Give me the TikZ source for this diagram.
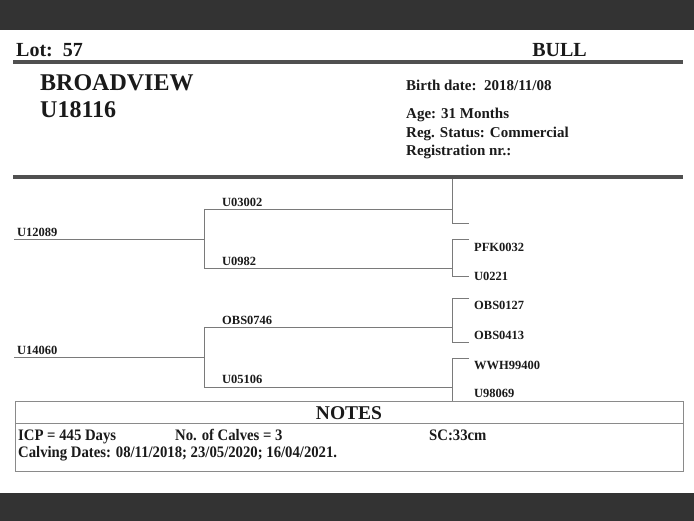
\documentclass[tikz,border=0pt]{standalone}
\usepackage{fontspec}
\setmainfont{Liberation Serif}
\begin{document}
\begin{tikzpicture}[x=1pt,y=-1pt,
  txt/.style={inner sep=0pt,anchor=base west,text=ink,font=\bfseries\fontsize{#1}{#1}\selectfont},
  txt/.default=12.5,
  ped/.style={draw=linegray,line width=0.9pt},
  rule/.style={draw=rulegray,line width=4pt},
  box/.style={draw=boxgray,line width=1pt}]
\definecolor{ink}{HTML}{1A1A1A}
\definecolor{linegray}{HTML}{7A7A7A}
\definecolor{rulegray}{HTML}{505050}
\definecolor{boxgray}{HTML}{8A8A8A}
\definecolor{dark}{HTML}{333333}
\useasboundingbox (0,0) rectangle (694,521);
\fill[white] (0,0) rectangle (694,521);
\fill[dark] (0,0) rectangle (694,30);
\fill[dark] (0,493) rectangle (694,521);
% header
\node[txt=20] (lot) at (16,57) {Lot:\ \ 57};
\node[txt=20,anchor=base east] (bull) at (587,57) {BULL};
\draw[rule] (13,62.5) -- (683,62.5);
\node[txt=24] (name) at (40,91) {BROADVIEW};
\node[txt=24] (id) at (40,118) {U18116};
\node[txt=15] (bd) at (406,91) {Birth date:\ \ 2018/11/08};
\node[txt=15] (age) at (406,119) {Age: 31 Months};
\node[txt=15] (reg) at (406,138) {Reg. Status: Commercial};
\node[txt=15] (regnr) at (406,156) {Registration nr.:};
\draw[rule] (13,177.5) -- (683,177.5);
% pedigree coordinates
\coordinate (s0) at (14,239);  \coordinate (s1) at (204,239);
\coordinate (d0) at (14,357);  \coordinate (d1) at (204,357);
\coordinate (ss0) at (204,209); \coordinate (ss1) at (452,209);
\coordinate (sd0) at (204,268); \coordinate (sd1) at (452,268);
\coordinate (ds0) at (204,327); \coordinate (ds1) at (452,327);
\coordinate (dd0) at (204,387); \coordinate (dd1) at (452,387);
\coordinate (b1t) at (452,179.5); \coordinate (b1b) at (452,223);
\coordinate (b2t) at (452,239); \coordinate (b2b) at (452,276);
\coordinate (b3t) at (452,298); \coordinate (b3b) at (452,342);
\coordinate (b4t) at (452,358); \coordinate (b4b) at (452,402);
\coordinate (e1b) at (469,223);
\coordinate (e2t) at (469,239); \coordinate (e2b) at (469,276);
\coordinate (e3t) at (469,298); \coordinate (e3b) at (469,342);
\coordinate (e4t) at (469,358);
% lines
\draw[ped] (s0) -- (s1);
\draw[ped] (d0) -- (d1);
\draw[ped] (ss0) -- (sd0);
\draw[ped] (ds0) -- (dd0);
\draw[ped] (ss0) -- (ss1);
\draw[ped] (sd0) -- (sd1);
\draw[ped] (ds0) -- (ds1);
\draw[ped] (dd0) -- (dd1);
\draw[ped] (b1t) -- (b1b) -- (e1b);
\draw[ped] (e2t) -- (b2t) -- (b2b) -- (e2b);
\draw[ped] (e3t) -- (b3t) -- (b3b) -- (e3b);
\draw[ped] (e4t) -- (b4t) -- (b4b);
% labels
\node[txt] (l1) at (17,237) {U12089};
\node[txt] (l2) at (17,355) {U14060};
\node[txt] (l3) at (222,207) {U03002};
\node[txt] (l4) at (222,266) {U0982};
\node[txt] (l5) at (222,325) {OBS0746};
\node[txt] (l6) at (222,384) {U05106};
\node[txt] (l7) at (474,252) {PFK0032};
\node[txt] (l8) at (474,281) {U0221};
\node[txt] (l9) at (474,310) {OBS0127};
\node[txt] (l10) at (474,340) {OBS0413};
\node[txt] (l11) at (474,370) {WWH99400};
\node[txt] (l12) at (474,398) {U98069};
% notes box
\draw[box,fill=white] (15,402) rectangle (683,471);
\draw[box] (15,424) -- (683,424);
\node[txt=19.5,anchor=base] (notes) at (349,420) {NOTES};
\node[txt=16] (icp) at (18,440) {\scalebox{0.92}[1]{ICP = 445 Days}};
\node[txt=16] (calves) at (175,440) {\scalebox{0.92}[1]{No. of Calves = 3}};
\node[txt=16] (sc) at (429,440) {\scalebox{0.92}[1]{SC:33cm}};
\node[txt=16] (cd) at (18,457) {\scalebox{0.92}[1]{Calving Dates: 08/11/2018; 23/05/2020; 16/04/2021.}};
\end{tikzpicture}
\end{document}
